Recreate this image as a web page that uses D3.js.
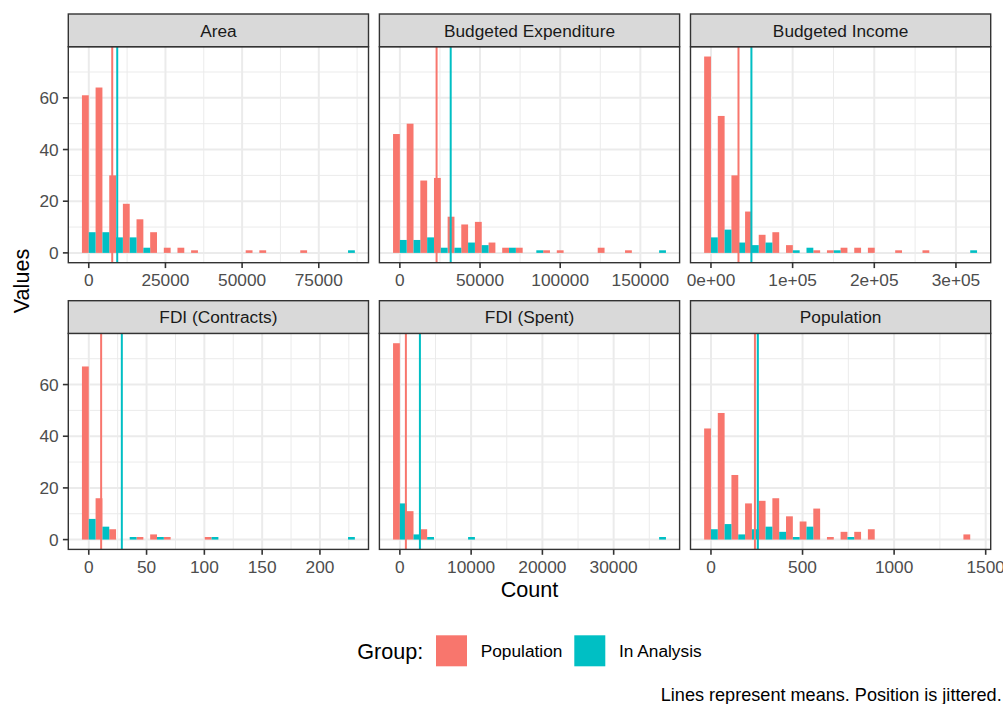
<!DOCTYPE html>
<html>
<head>
<meta charset="utf-8">
<script src="https://cdn.jsdelivr.net/npm/d3@7"></script>
<style>
body { margin: 0; background: white; }
text { font-family: "Liberation Sans", Arial, Helvetica, sans-serif; }
</style>
</head>
<body>
<script>
// facet names
var facets = ["Area", "Budgeted Expenditure", "Budgeted Income", "FDI (Contracts)", "FDI (Spent)", "Population"]

// centre of first and last bin, 20 bins in every facet
var binFirst = [0, 0, 0, 0, 0, 0]
var binLast = [84540, 161700, 317500, 224.3, 36380, 1415.6]

// counts per bin
var areaPop = [61, 64, 30, 19, 13, 8, 2, 2, 1, 0, 0, 0, 1, 1, 0, 0, 1, 0, 0, 0]
var areaAna = [8, 8, 6, 6, 2, 0, 0, 0, 0, 0, 0, 0, 0, 0, 0, 0, 0, 0, 0, 1]
var expPop = [46, 50, 28, 29, 14, 11, 12, 4, 2, 2, 0, 1, 1, 0, 0, 2, 0, 1, 0, 0]
var expAna = [5, 5, 6, 2, 2, 4, 3, 0, 2, 0, 1, 0, 0, 0, 0, 0, 0, 0, 0, 1]
var incPop = [76, 53, 30, 16, 7, 8, 3, 0, 1, 1, 2, 2, 2, 0, 1, 0, 1, 0, 0, 0]
var incAna = [6, 9, 4, 3, 4, 0, 1, 2, 0, 1, 0, 0, 0, 0, 0, 0, 0, 0, 0, 1]
var fdicPop = [67, 16, 4, 0, 1, 2, 1, 0, 0, 1, 0, 0, 0, 0, 0, 0, 0, 0, 0, 0]
var fdicAna = [8, 5, 0, 1, 0, 1, 0, 0, 0, 1, 0, 0, 0, 0, 0, 0, 0, 0, 0, 1]
var fdisPop = [76, 11, 4, 0, 0, 0, 0, 0, 0, 0, 0, 0, 0, 0, 0, 0, 0, 0, 0, 0]
var fdisAna = [14, 2, 1, 0, 0, 1, 0, 0, 0, 0, 0, 0, 0, 0, 0, 0, 0, 0, 0, 1]
var popPop = [43, 49, 25, 14, 15, 16, 9, 7, 12, 1, 3, 3, 4, 0, 0, 0, 0, 0, 0, 2]
var popAna = [4, 6, 2, 4, 5, 3, 1, 5, 0, 0, 1, 0, 0, 0, 0, 0, 0, 0, 0, 0]

var popCounts = [areaPop, expPop, incPop, fdicPop, fdisPop, popPop]
var anaCounts = [areaAna, expAna, incAna, fdicAna, fdisAna, popAna]

// group means (vertical lines)
var popMeans = [7650, 22900, 33700, 10.7, 844, 240]
var anaMeans = [9280, 31700, 49500, 28.6, 2813, 256]

// axis ticks
var xTicks = [
  [0, 25000, 50000, 75000],
  [0, 50000, 100000, 150000],
  [0, 100000, 200000, 300000],
  [0, 50, 100, 150, 200],
  [0, 10000, 20000, 30000],
  [0, 500, 1000, 1500]
]
var xTickLabels = [
  ["0", "25000", "50000", "75000"],
  ["0", "50000", "100000", "150000"],
  ["0e+00", "1e+05", "2e+05", "3e+05"],
  ["0", "50", "100", "150", "200"],
  ["0", "10000", "20000", "30000"],
  ["0", "500", "1000", "1500"]
]
var yTicks = [0, 20, 40, 60]

var groups = ["Population", "In Analysis"]
var colors = ["#F8766D", "#00BFC4"]

var width = 1003
var height = 704

var svg = d3.select("body")
  .append("svg")
    .attr("width", width)
    .attr("height", height)

// panel layout
var colLeft = [68.3, 379.4, 690.5]
var panelW = 300.2
var rowTop = [14, 300.7]
var stripH = 32.7
var panelH = 216
var tickLen = 5.4
var tickSize = 17.3

// minor breaks halfway between majors, like ggplot
function minorBreaks(ticks, domain) {
  var step = ticks[1] - ticks[0]
  var ext = [ticks[0] - step].concat(ticks, [ticks[ticks.length - 1] + step])
  var out = []
  for (var k = 0; k < ext.length - 1; k++) {
    var m = (ext[k] + ext[k + 1]) / 2
    if (m >= domain[0] && m <= domain[1]) out.push(m)
  }
  return out
}

// shared y scale
var maxCount = d3.max(popCounts.concat(anaCounts), function(c){ return d3.max(c) })
var y = d3.scaleLinear()
  .domain([-maxCount * 0.05, maxCount * 1.05])
  .range([panelH, 0])
var yMinor = minorBreaks(yTicks, y.domain())

facets.forEach(function(name, i) {
  var col = i % 3
  var row = Math.floor(i / 3)
  var g = svg.append("g")
    .attr("transform", "translate(" + colLeft[col] + "," + (rowTop[row] + stripH) + ")")

  // histogram bins
  var bw = (binLast[i] - binFirst[i]) / 19
  var lo = binFirst[i] - bw / 2
  var hi = binLast[i] + bw / 2
  var pad = (hi - lo) * 0.05
  var x = d3.scaleLinear().domain([lo - pad, hi + pad]).range([0, panelW])
  var centres = d3.range(20).map(function(j){ return binFirst[i] + j * bw })

  var bins = centres.map(function(c, j) {
    return { c: c, pop: popCounts[i][j], ana: anaCounts[i][j] }
  })

  // panel background + grid
  g.append("rect")
    .attr("width", panelW).attr("height", panelH)
    .attr("fill", "white")

  var xMinor = minorBreaks(xTicks[i], x.domain())
  g.selectAll(".xminor").data(xMinor).enter().append("line")
    .attr("x1", function(d){ return x(d) }).attr("x2", function(d){ return x(d) })
    .attr("y1", 0).attr("y2", panelH)
    .attr("stroke", "#EBEBEB").attr("stroke-width", 1)
  g.selectAll(".yminor").data(yMinor).enter().append("line")
    .attr("y1", function(d){ return y(d) }).attr("y2", function(d){ return y(d) })
    .attr("x1", 0).attr("x2", panelW)
    .attr("stroke", "#EBEBEB").attr("stroke-width", 1)
  g.selectAll(".xmajor").data(xTicks[i]).enter().append("line")
    .attr("x1", function(d){ return x(d) }).attr("x2", function(d){ return x(d) })
    .attr("y1", 0).attr("y2", panelH)
    .attr("stroke", "#EBEBEB").attr("stroke-width", 2)
  g.selectAll(".ymajor").data(yTicks).enter().append("line")
    .attr("y1", function(d){ return y(d) }).attr("y2", function(d){ return y(d) })
    .attr("x1", 0).attr("x2", panelW)
    .attr("stroke", "#EBEBEB").attr("stroke-width", 2)

  // dodged bars: population left half, in-analysis right half
  g.selectAll(".barpop").data(bins).enter().append("rect")
    .attr("x", function(d){ return x(d.c - bw / 2) })
    .attr("width", function(d){ return x(d.c) - x(d.c - bw / 2) })
    .attr("y", function(d){ return y(d.pop) })
    .attr("height", function(d){ return y(0) - y(d.pop) })
    .attr("fill", colors[0])
  g.selectAll(".barana").data(bins).enter().append("rect")
    .attr("x", function(d){ return x(d.c) })
    .attr("width", function(d){ return x(d.c + bw / 2) - x(d.c) })
    .attr("y", function(d){ return y(d.ana) })
    .attr("height", function(d){ return y(0) - y(d.ana) })
    .attr("fill", colors[1])

  // mean lines
  g.selectAll(".mean").data([popMeans[i], anaMeans[i]]).enter().append("line")
    .attr("x1", function(d){ return x(d) }).attr("x2", function(d){ return x(d) })
    .attr("y1", 0).attr("y2", panelH)
    .attr("stroke", function(d, k){ return colors[k] })
    .attr("stroke-width", 2)

  // panel border
  g.append("rect")
    .attr("width", panelW).attr("height", panelH)
    .attr("fill", "none").attr("stroke", "#333333").attr("stroke-width", 1.4)

  // strip
  g.append("rect")
    .attr("y", -stripH).attr("width", panelW).attr("height", stripH)
    .attr("fill", "#D9D9D9").attr("stroke", "#333333").attr("stroke-width", 1.4)
  g.append("text")
    .attr("x", panelW / 2).attr("y", -stripH / 2 + 6.2)
    .attr("text-anchor", "middle")
    .style("font-size", tickSize + "px")
    .attr("fill", "#1A1A1A")
    .text(name)

  // x axis
  g.selectAll(".xtick").data(xTicks[i]).enter().append("line")
    .attr("x1", function(d){ return x(d) }).attr("x2", function(d){ return x(d) })
    .attr("y1", panelH).attr("y2", panelH + tickLen)
    .attr("stroke", "#333333").attr("stroke-width", 1.6)
  g.selectAll(".xlab").data(xTicks[i]).enter().append("text")
    .attr("x", function(d){ return x(d) })
    .attr("y", panelH + 23.3)
    .attr("text-anchor", "middle")
    .style("font-size", tickSize + "px")
    .attr("fill", "#4D4D4D")
    .text(function(d, k){ return xTickLabels[i][k] })

  // y axis only on the first column
  if (col == 0) {
    g.selectAll(".ytick").data(yTicks).enter().append("line")
      .attr("y1", function(d){ return y(d) }).attr("y2", function(d){ return y(d) })
      .attr("x1", -tickLen).attr("x2", 0)
      .attr("stroke", "#333333").attr("stroke-width", 1.6)
    g.selectAll(".ylab").data(yTicks).enter().append("text")
      .attr("x", -tickLen - 4.3)
      .attr("y", function(d){ return y(d) })
      .attr("dy", "0.36em")
      .attr("text-anchor", "end")
      .style("font-size", tickSize + "px")
      .attr("fill", "#4D4D4D")
      .text(function(d){ return d })
  }
})

// axis titles
svg.append("text")
  .attr("x", 529.5).attr("y", 596.7)
  .attr("text-anchor", "middle")
  .style("font-size", "21.6px")
  .text("Count")
svg.append("text")
  .attr("transform", "translate(29.3,281) rotate(-90)")
  .attr("text-anchor", "middle")
  .style("font-size", "21.6px")
  .text("Values")

// legend
var legend = svg.append("g")
legend.append("text")
  .attr("x", 357.3).attr("y", 658.7)
  .style("font-size", "21.6px")
  .text("Group:")
var keyX = [436, 574.3]
groups.forEach(function(name, k) {
  legend.append("rect")
    .attr("x", keyX[k]).attr("y", 635.3)
    .attr("width", 31).attr("height", 31)
    .attr("fill", colors[k])
  legend.append("text")
    .attr("x", keyX[k] + 44.7).attr("y", 657.3)
    .style("font-size", tickSize + "px")
    .text(name)
})

// caption
svg.append("text")
  .attr("x", 1001.7).attr("y", 701.4)
  .attr("text-anchor", "end")
  .style("font-size", "18.1px")
  .text("Lines represent means. Position is jittered.")
</script>
</body>
</html>
